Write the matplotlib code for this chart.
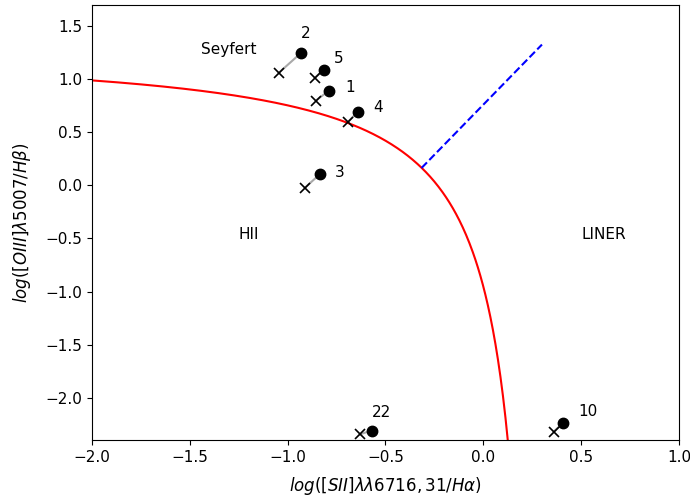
import numpy as np
import matplotlib
matplotlib.use("Agg")
import matplotlib.pyplot as plt

# Galaxy IDs and line ratios: log([SII]/Ha), log([OIII]/Hb)
ids = ["2", "5", "1", "4", "3", "22", "10"]
sii_obs = [-0.93, -0.815, -0.79, -0.64, -0.835, -0.57, 0.41]
oiii_obs = [1.25, 1.09, 0.89, 0.695, 0.105, -2.31, -2.235]
sii_alt = [-1.045, -0.86, -0.855, -0.69, -0.91, -0.63, 0.36]
oiii_alt = [1.06, 1.015, 0.80, 0.60, -0.02, -2.345, -2.32]

# Label positions for the IDs
label_x = [-0.905, -0.74, -0.68, -0.535, -0.735, -0.52, 0.535]
label_y = [1.43, 1.20, 0.925, 0.735, 0.125, -2.14, -2.13]

# Kewley et al. demarcation: maximum starburst line and Seyfert/LINER line
kew_a, kew_b, kew_c = 0.72, 0.32, 1.30
sl_slope, sl_icpt = 1.89, 0.76

fig = plt.figure(figsize=(6.9, 4.99), dpi=100)
ax = fig.add_axes([0.133, 0.118, 0.851, 0.872])

x_curve = np.linspace(-2.0, 0.135, 500)
ax.plot(x_curve, kew_a / (x_curve - kew_b) + kew_c, color="red", lw=1.5)

x_sl = np.array([-0.315, 0.30])
ax.plot(x_sl, sl_slope * x_sl + sl_icpt, color="blue", ls="--", lw=1.5)

for xs, ys, xa, ya in zip(sii_obs, oiii_obs, sii_alt, oiii_alt):
    ax.plot([xa, xs], [ya, ys], color="darkgray", lw=1.5, zorder=2)
ax.plot(sii_obs, oiii_obs, "o", color="black", ms=7.5, zorder=3)
ax.plot(sii_alt, oiii_alt, "x", color="black", ms=7, mew=1.2, zorder=3)

for t, lx, ly in zip(ids, label_x, label_y):
    ax.text(lx, ly, t, ha="center", va="center", fontsize=11)

ax.text(-1.30, 1.28, "Seyfert", ha="center", va="center", fontsize=11)
ax.text(-1.20, -0.46, "HII", ha="center", va="center", fontsize=11)
ax.text(0.615, -0.46, "LINER", ha="center", va="center", fontsize=11)

ax.set_xlim(-2.0, 1.0)
ax.set_ylim(-2.4, 1.7)
ax.set_xlabel(r"$log([SII]\lambda\lambda6716,31/H\alpha)$", fontsize=12, labelpad=7)
ax.set_ylabel(r"$log([OIII]\lambda5007/H\beta)$", fontsize=12, labelpad=9)
ax.tick_params(labelsize=11)

fig.savefig("out.png", dpi=100)
